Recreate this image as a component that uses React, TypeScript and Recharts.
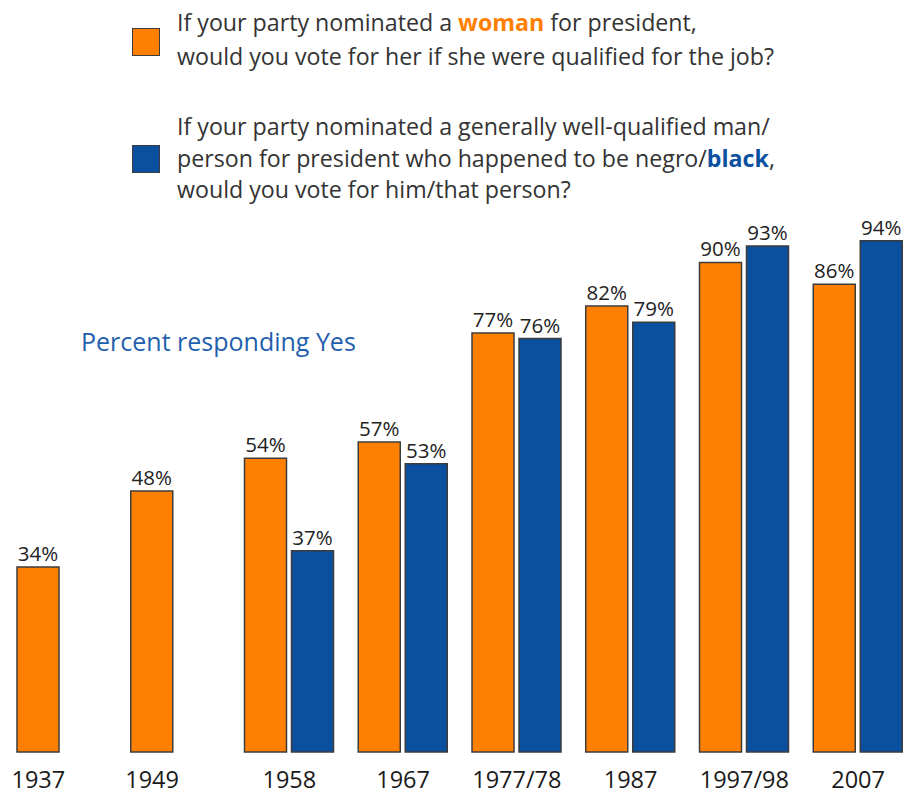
import React from 'react';
import { BarChart, Bar, XAxis, YAxis, LabelList } from 'recharts';

const years = ['1937', '1949', '1958', '1967', '1977/78', '1987', '1997/98', '2007'];
const womanYes: (number | null)[] = [34, 48, 54, 57, 77, 82, 90, 86];
const blackYes: (number | null)[] = [null, null, 37, 53, 76, 79, 93, 94];

const data = years.map((year, i) => ({ year, woman: womanYes[i], black: blackYes[i] }));

const ORANGE = '#FF8000';
const BLUE = '#0B4F9F';
const STROKE = '#3c3c3c';
const BAR_SIZE = 42;
const BAR_GAP = 5;
const FONT = '"Open Sans", "Noto Sans", sans-serif';

const YearTick = (props: any) => {
  const { x, y, payload } = props;
  const idx = years.indexOf(payload.value);
  const single = idx >= 0 && blackYes[idx] == null;
  const shift = single ? -(BAR_SIZE + BAR_GAP) / 2 : 0;
  return (
    <text
      x={x + shift}
      y={y}
      dy={36}
      textAnchor="middle"
      fill="#1a1a1a"
      fontFamily={FONT}
      fontSize={23.5}
    >
      {payload.value}
    </text>
  );
};

const fmt = (v: any) => (v == null ? '' : `${v}%`);

export default function App() {
  return (
    <div
      style={{
        position: 'fixed',
        left: 0,
        top: 0,
        width: 906,
        height: 796,
        overflow: 'hidden',
        background: '#fff',
      }}
    >
      <BarChart
        width={915}
        height={796}
        data={data}
        margin={{ top: 208, right: 0, left: 5, bottom: 0 }}
        barGap={BAR_GAP}
      >
        <YAxis hide domain={[0, 100]} />
        <XAxis
          dataKey="year"
          height={44}
          axisLine={false}
          tickLine={false}
          tickSize={0}
          tickMargin={0}
          interval={0}
          tick={<YearTick />}
        />
        <Bar
          dataKey="woman"
          fill={ORANGE}
          stroke={STROKE}
          strokeWidth={1.5}
          barSize={BAR_SIZE}
          isAnimationActive={false}
        >
          <LabelList
            dataKey="woman"
            position="top"
            offset={6}
            formatter={fmt}
            style={{ fontFamily: FONT, fontSize: 20.5, fill: '#222' }}
          />
        </Bar>
        <Bar
          dataKey="black"
          fill={BLUE}
          stroke={STROKE}
          strokeWidth={1.5}
          barSize={BAR_SIZE}
          isAnimationActive={false}
        >
          <LabelList
            dataKey="black"
            position="top"
            offset={6}
            formatter={fmt}
            style={{ fontFamily: FONT, fontSize: 20.5, fill: '#222' }}
          />
        </Bar>
      </BarChart>

      <div
        style={{
          position: 'absolute',
          left: 132,
          top: 28,
          width: 26,
          height: 26,
          background: ORANGE,
          border: `1px solid ${STROKE}`,
        }}
      />
      <div
        style={{
          position: 'absolute',
          left: 177,
          top: 5,
          fontFamily: FONT,
          fontSize: 23.2,
          lineHeight: '34px',
          color: '#333',
          whiteSpace: 'nowrap',
        }}
      >
        If your party nominated a <b style={{ color: ORANGE }}>woman</b> for president,
        <br />
        would you vote for her if she were qualified for the job?
      </div>

      <div
        style={{
          position: 'absolute',
          left: 132,
          top: 145,
          width: 26,
          height: 26,
          background: BLUE,
          border: `1px solid ${STROKE}`,
        }}
      />
      <div
        style={{
          position: 'absolute',
          left: 177,
          top: 111,
          fontFamily: FONT,
          fontSize: 23.2,
          lineHeight: '31.5px',
          color: '#333',
          whiteSpace: 'nowrap',
        }}
      >
        If your party nominated a generally well-qualified man/
        <br />
        person for president who happened to be negro/<b style={{ color: BLUE }}>black</b>,
        <br />
        would you vote for him/that person?
      </div>

      <div
        style={{
          position: 'absolute',
          left: 81,
          top: 324,
          fontFamily: FONT,
          fontSize: 25,
          lineHeight: '34px',
          color: '#1F5FAE',
          whiteSpace: 'nowrap',
        }}
      >
        Percent responding Yes
      </div>
    </div>
  );
}
